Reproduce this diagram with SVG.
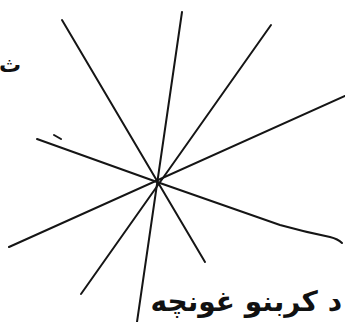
<svg xmlns="http://www.w3.org/2000/svg" width="345" height="322" viewBox="0 0 345 322">
<style>
.ln{stroke:#151515;stroke-width:2;fill:none;stroke-linecap:round}
.tx{font-family:"DejaVu Sans","Noto Sans",sans-serif;font-weight:bold;fill:#111}
</style>
<rect width="345" height="322" fill="#fff"/>
<g id="rays">
<line class="ln" x1="62" y1="20" x2="205" y2="262"/>
<line class="ln" x1="182" y1="12" x2="137" y2="322"/>
<line class="ln" x1="271" y1="25" x2="81" y2="294"/>
<line class="ln" x1="345" y1="96" x2="9" y2="247"/>
<path class="ln" d="M37,139 L157,182 L280,225 Q305,232 330,237 Q338,239 342,243"/>
<line class="ln" x1="54" y1="135" x2="61" y2="139"/>
</g>
<g id="labels">
<text class="tx" x="21" y="72" font-size="22" text-anchor="end">ث</text>
<text class="tx" x="342" y="311" font-size="28" text-anchor="end">د کربنو غونچه</text>
</g>
</svg>
